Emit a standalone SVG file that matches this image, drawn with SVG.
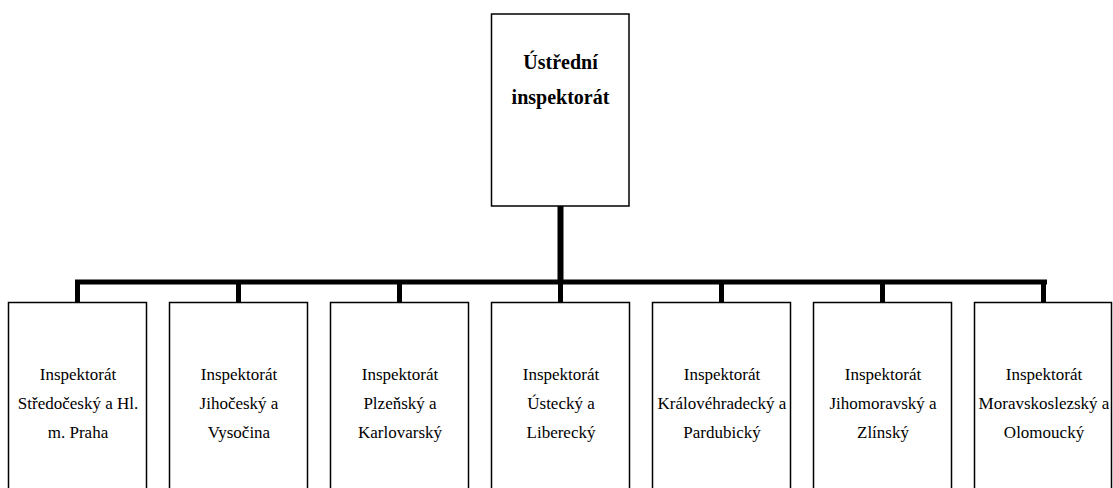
<svg xmlns="http://www.w3.org/2000/svg" width="1113" height="488" viewBox="0 0 1113 488">
<style>
.box{fill:#fff;stroke:#000;stroke-width:1.5}
.t{font-family:"Liberation Serif","Times New Roman",serif;font-size:17px;fill:#000;text-anchor:middle}
.tb{font-family:"Liberation Serif","Times New Roman",serif;font-size:20px;font-weight:bold;fill:#000;text-anchor:middle}
.c{stroke:#000;fill:none;stroke-linecap:butt}
</style>
<rect width="1113" height="488" fill="#fff"/>
<g id="connectors">
<line class="c" x1="560.5" y1="206" x2="560.5" y2="282" stroke-width="6"/>
<line class="c" x1="75" y1="282" x2="1047" y2="282" stroke-width="5"/>
<line class="c" x1="77.5" y1="280" x2="77.5" y2="302" stroke-width="5"/>
<line class="c" x1="238.5" y1="280" x2="238.5" y2="302" stroke-width="5"/>
<line class="c" x1="399.5" y1="280" x2="399.5" y2="302" stroke-width="5"/>
<line class="c" x1="560.5" y1="280" x2="560.5" y2="302" stroke-width="5"/>
<line class="c" x1="721.5" y1="280" x2="721.5" y2="302" stroke-width="5"/>
<line class="c" x1="882.5" y1="280" x2="882.5" y2="302" stroke-width="5"/>
<line class="c" x1="1043.5" y1="280" x2="1043.5" y2="302" stroke-width="5"/>
</g>
<g id="n0">
<rect class="box" x="491.5" y="14" width="137.5" height="192"/>
<text class="tb" x="560.5" y="69">Ústřední</text>
<text class="tb" x="560.5" y="104">inspektorát</text>
</g>
<g id="n1">
<rect class="box" x="8.5" y="302.5" width="138" height="200"/>
<text class="t" x="78" y="380">Inspektorát</text>
<text class="t" x="78" y="409">Středočeský a Hl.</text>
<text class="t" x="78" y="438">m. Praha</text>
</g>
<g id="n2">
<rect class="box" x="169.5" y="302.5" width="138" height="200"/>
<text class="t" x="239" y="380">Inspektorát</text>
<text class="t" x="239" y="409">Jihočeský a</text>
<text class="t" x="239" y="438">Vysočina</text>
</g>
<g id="n3">
<rect class="box" x="330.5" y="302.5" width="138" height="200"/>
<text class="t" x="400" y="380">Inspektorát</text>
<text class="t" x="400" y="409">Plzeňský a</text>
<text class="t" x="400" y="438">Karlovarský</text>
</g>
<g id="n4">
<rect class="box" x="491.5" y="302.5" width="138" height="200"/>
<text class="t" x="561" y="380">Inspektorát</text>
<text class="t" x="561" y="409">Ústecký a</text>
<text class="t" x="561" y="438">Liberecký</text>
</g>
<g id="n5">
<rect class="box" x="652.5" y="302.5" width="138" height="200"/>
<text class="t" x="722" y="380">Inspektorát</text>
<text class="t" x="722" y="409">Královéhradecký a</text>
<text class="t" x="722" y="438">Pardubický</text>
</g>
<g id="n6">
<rect class="box" x="813.5" y="302.5" width="138" height="200"/>
<text class="t" x="883" y="380">Inspektorát</text>
<text class="t" x="883" y="409">Jihomoravský a</text>
<text class="t" x="883" y="438">Zlínský</text>
</g>
<g id="n7">
<rect class="box" x="974.5" y="302.5" width="137" height="200"/>
<text class="t" x="1044" y="380">Inspektorát</text>
<text class="t" x="1044" y="409">Moravskoslezský a</text>
<text class="t" x="1044" y="438">Olomoucký</text>
</g>
</svg>
